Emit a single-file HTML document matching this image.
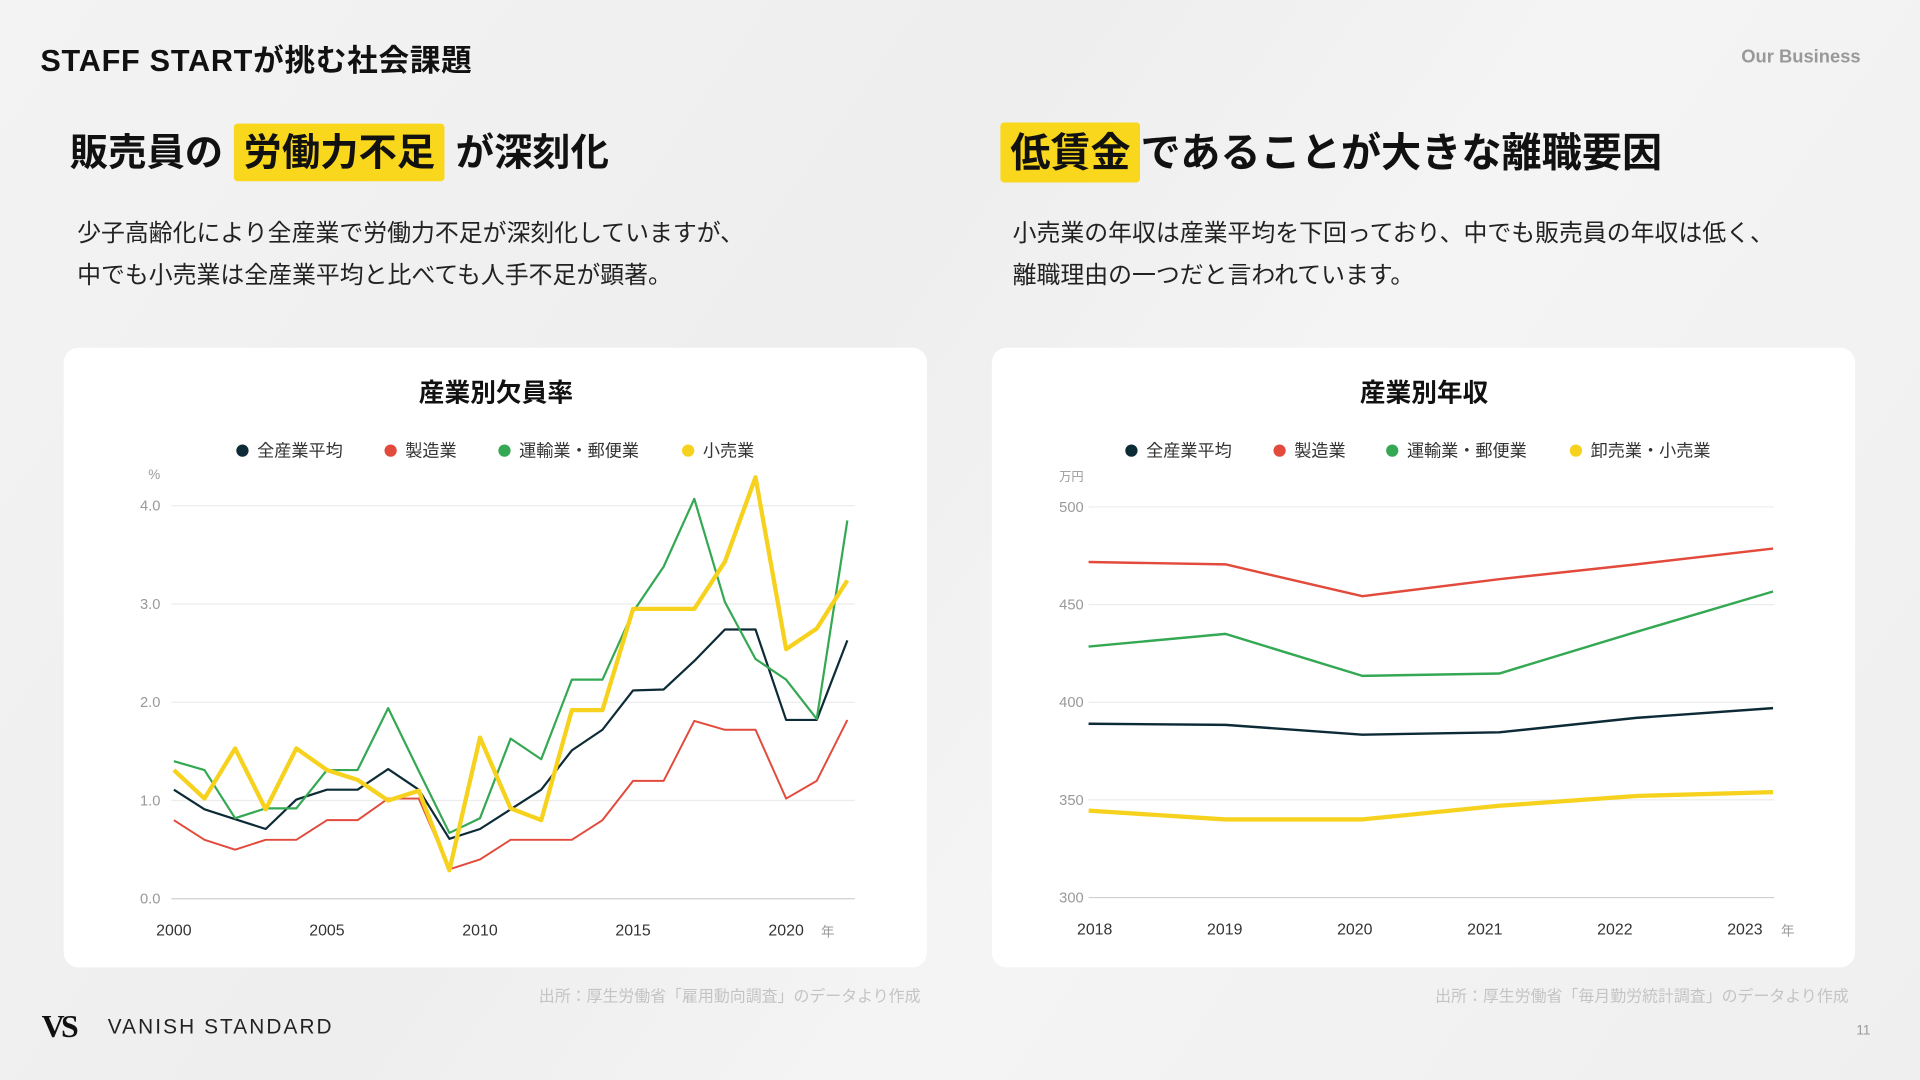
<!DOCTYPE html>
<html><head><meta charset="utf-8">
<style>
html,body{margin:0;padding:0;width:1920px;height:1080px;overflow:hidden;background:#f1f1f1;}
#wrap{position:absolute;left:0;top:0;width:1568px;height:882px;transform:scale(1.22449);transform-origin:0 0;
 background:linear-gradient(125deg,#f3f3f3 0%,#eeeeee 40%,#f4f4f4 60%,#efefef 100%);
 font-family:"Liberation Sans","Noto Sans CJK JP",sans-serif;color:#111;}
.abs{position:absolute;white-space:nowrap;}
.hl{background:#f9d71c;padding:6px 8px;border-radius:3px;}
.card{position:absolute;background:#fff;border-radius:12px;}
svg text{font-family:"Liberation Sans","Noto Sans CJK JP",sans-serif;}
</style></head><body>
<div id="wrap">
<div class="abs" style="left:33px;top:30px;font-size:25px;font-weight:bold;letter-spacing:0.6px;">STAFF STARTが挑む社会課題</div>
<div class="abs" style="left:1422px;top:38px;font-size:15px;font-weight:bold;color:#999;">Our Business</div>

<div class="abs" style="left:57px;top:100px;font-size:31.3px;font-weight:bold;line-height:50px;">販売員の <span class="hl">労働力不足</span> が深刻化</div>
<div class="abs" style="left:63px;top:174px;font-size:19.5px;line-height:34px;color:#222;">少子高齢化により全産業で労働力不足が深刻化していますが、<br>中でも小売業は全産業平均と比べても人手不足が顕著。</div>

<div class="abs" style="left:817px;top:100px;font-size:32.8px;font-weight:bold;line-height:50px;"><span class="hl">低賃金</span>であることが大きな離職要因</div>
<div class="abs" style="left:827px;top:174px;font-size:19.5px;line-height:34px;color:#222;">小売業の年収は産業平均を下回っており、中でも販売員の年収は低く、<br>離職理由の一つだと言われています。</div>

<div class="card" style="left:52px;top:284px;width:705px;height:506px;"></div>
<div class="card" style="left:810px;top:284px;width:705px;height:506px;"></div>

<svg id="chart" width="1568" height="882" style="position:absolute;left:0;top:0;"></svg>

<div class="abs" style="left:440px;top:803px;font-size:13px;color:#c4c4c4;">出所：厚生労働省「雇用動向調査」のデータより作成</div>
<div class="abs" style="left:1172px;top:803px;font-size:13px;color:#c4c4c4;">出所：厚生労働省「毎月勤労統計調査」のデータより作成</div>

<div class="abs" style="left:34px;top:824px;font-size:26px;font-weight:bold;font-family:'Liberation Serif',serif;letter-spacing:-3px;">VS</div>
<div class="abs" style="left:88px;top:829px;font-size:17px;letter-spacing:1.7px;color:#222;">VANISH STANDARD</div>
<div class="abs" style="left:1516px;top:836px;font-size:11px;color:#999;">11</div>
</div>
<script>
// Left chart data (欠員率, %)
const yearsL = [2000,2001,2002,2003,2004,2005,2006,2007,2008,2009,2010,2011,2012,2013,2014,2015,2016,2017,2018,2019,2020,2021,2022];
const allL = [1.11,0.91,0.81,0.71,1.01,1.11,1.11,1.32,1.11,0.61,0.71,0.91,1.11,1.51,1.72,2.12,2.13,2.42,2.74,2.74,1.82,1.82,2.63];
const mfgL = [0.8,0.6,0.5,0.6,0.6,0.8,0.8,1.02,1.02,0.3,0.4,0.6,0.6,0.6,0.8,1.2,1.2,1.81,1.72,1.72,1.02,1.2,1.82];
const transL = [1.4,1.31,0.82,0.92,0.92,1.31,1.31,1.94,1.3,0.67,0.82,1.63,1.42,2.23,2.23,2.92,3.38,4.07,3.02,2.44,2.23,1.83,3.85];
const retailL = [1.31,1.02,1.53,0.91,1.53,1.31,1.21,1.0,1.1,0.29,1.64,0.92,0.8,1.92,1.92,2.95,2.95,2.95,3.43,4.29,2.54,2.75,3.24];
const ticksL = [0,1,2,3,4];
const xLabelsL = [2000,2005,2010,2015,2020];
// Right chart data (年収, 万円)
const yearsR = [2018,2019,2020,2021,2022,2023];
const allR = [389,388.4,383.4,384.6,392,397];
const mfgR = [471.8,470.6,454.3,463,470.6,478.7];
const transR = [428.5,435,413.5,414.7,436,456.7];
const retailR = [344.5,340,340,347,352,354];
const ticksR = [300,350,400,450,500];

const NS='http://www.w3.org/2000/svg';
const svg=document.getElementById('chart');
function el(tag,attrs,parent){const e=document.createElementNS(NS,tag);for(const k in attrs)e.setAttribute(k,attrs[k]);(parent||svg).appendChild(e);return e;}
const COL={all:'#0d2b36',mfg:'#e24a3b',trans:'#34a853',retail:'#f6d21e'};

function legend(items,y,xs){
  items.forEach((it,i)=>{
    const c=el('circle',{cx:xs[i],cy:y,r:5,fill:it[1]});
    
    
    const t=el('text',{x:xs[i]+12,y:y+5,'font-size':14,fill:'#333'});t.textContent=it[0];
    
    
  });
}

// Left chart
const xL=y=>142+(y-2000)*25;
const yL=v=>734-v*80.25;
{
  const t=el('text',{x:405,y:328,'font-size':21,'font-weight':'bold','text-anchor':'middle',fill:'#111'});t.textContent='産業別欠員率';
  
  
  legend([['全産業平均',COL.all],['製造業',COL.mfg],['運輸業・郵便業',COL.trans],['小売業',COL.retail]],368,[198,319,412,562]);
  ticksL.forEach(v=>{
    const g=el('line',{x1:140,x2:698,y1:yL(v),y2:yL(v),stroke:v===0?'#cfcfcf':'#ececec','stroke-width':1});
    
    
    const tx=el('text',{x:131,y:yL(v)+4,'font-size':12,fill:'#999','text-anchor':'end'});tx.textContent=v.toFixed(1);
    
    
  });
  const u=el('text',{x:126,y:391,'font-size':11,fill:'#999','text-anchor':'middle'});u.textContent='%';
  
  
  xLabelsL.forEach(y=>{
    const tx=el('text',{x:xL(y),y:764,'font-size':13,fill:'#333','text-anchor':'middle'});tx.textContent=y;
    
    
  });
  const yu=el('text',{x:676,y:765,'font-size':11,fill:'#999','text-anchor':'middle'});yu.textContent='年';
  
  
  [[mfgL,COL.mfg,1.6,'line-manufacturing'],[allL,COL.all,1.8,'line-all-industries'],[transL,COL.trans,1.8,'line-transport'],[retailL,COL.retail,3.5,'line-retail']].forEach(s=>{
    const p=el('polyline',{points:s[0].map((v,i)=>xL(yearsL[i])+','+yL(v)).join(' '),fill:'none',stroke:s[1],'stroke-width':s[2],'stroke-linejoin':'round'});
    
    
  });
}
// Right chart
const xR=y=>889+(y-2018)*111.8;
const xRLabel=y=>894+(y-2018)*106.2;
const yR=v=>733-(v-300)*1.595;
{
  const t=el('text',{x:1163,y:328,'font-size':21,'font-weight':'bold','text-anchor':'middle',fill:'#111'});t.textContent='産業別年収';
  
  
  legend([['全産業平均',COL.all],['製造業',COL.mfg],['運輸業・郵便業',COL.trans],['卸売業・小売業',COL.retail]],368,[924,1045,1137,1287]);
  ticksR.forEach(v=>{
    const g=el('line',{x1:889,x2:1449,y1:yR(v),y2:yR(v),stroke:v===300?'#cfcfcf':'#ececec','stroke-width':1});
    
    
    const tx=el('text',{x:885,y:yR(v)+4,'font-size':12,fill:'#999','text-anchor':'end'});tx.textContent=v;
    
    
  });
  const u=el('text',{x:875,y:393,'font-size':10,fill:'#999','text-anchor':'middle'});u.textContent='万円';
  
  
  yearsR.forEach(y=>{
    const tx=el('text',{x:xRLabel(y),y:763,'font-size':13,fill:'#333','text-anchor':'middle'});tx.textContent=y;
    
    
  });
  const yu=el('text',{x:1460,y:764,'font-size':11,fill:'#999','text-anchor':'middle'});yu.textContent='年';
  
  
  [[mfgR,COL.mfg,2,'income-line-manufacturing'],[transR,COL.trans,2,'income-line-transport'],[allR,COL.all,2,'income-line-all-industries'],[retailR,COL.retail,3.5,'income-line-retail']].forEach(s=>{
    const p=el('polyline',{points:s[0].map((v,i)=>xR(yearsR[i])+','+yR(v)).join(' '),fill:'none',stroke:s[1],'stroke-width':s[2],'stroke-linejoin':'round'});
    
    
  });
}
</script>
</body></html>
